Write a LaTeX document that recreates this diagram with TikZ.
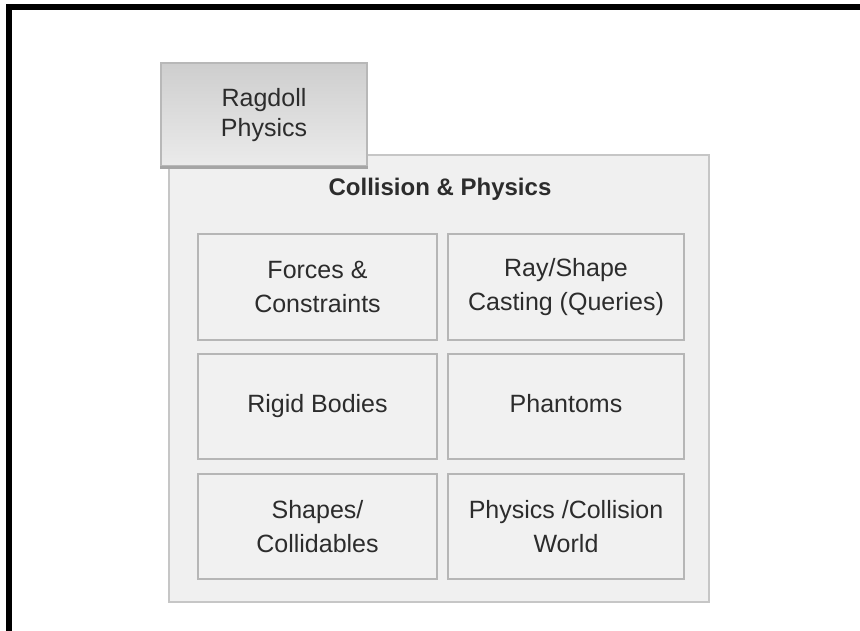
\documentclass[tikz,border=0pt]{standalone}
\usepackage{fontspec}
\setmainfont{Liberation Sans}
\definecolor{framegray}{HTML}{C6C6C6}
\definecolor{panelfill}{HTML}{F0F0F0}
\definecolor{cellborder}{HTML}{B6B6B6}
\definecolor{cellfill}{HTML}{F1F1F1}
\definecolor{tabtop}{HTML}{CECECE}
\definecolor{tabbottom}{HTML}{EBEBEB}
\definecolor{tabborder}{HTML}{B8B8B8}
\definecolor{ink}{HTML}{2C2C2C}
\begin{document}
\begin{tikzpicture}[x=1pt,y=-1pt,
  outerframe/.style={line width=6pt, line cap=butt, line join=miter},
  panel/.style={draw=framegray, line width=2.5pt, fill=panelfill,
    minimum width=540pt, minimum height=447pt, inner sep=0pt},
  cell/.style={draw=cellborder, line width=2pt, fill=cellfill,
    minimum height=105pt, align=center, inner sep=0pt, text=ink,
    font=\fontsize{25}{34}\selectfont},
  leftcell/.style={cell, minimum width=239pt},
  rightcell/.style={cell, minimum width=236pt},
  tab/.style={draw=tabborder, line width=2pt, top color=tabtop,
    bottom color=tabbottom, minimum width=206pt, minimum height=103pt,
    align=center, inner sep=0pt, text=ink,
    font=\fontsize{25}{30}\selectfont},
  title/.style={text=ink, inner sep=0pt, font=\fontsize{24}{28}\selectfont\bfseries}
]
\useasboundingbox (0,0) rectangle (860,631);
\begin{scope}
  \clip (0,0) rectangle (860,631);
  % open black frame running off the right and bottom edges
  \draw[outerframe] (9,660) -- (9,7) -- (890,7);
\end{scope}

% container panel
\node[panel] (panel) at (439,378.5) {};
\node[title, anchor=base] (title) at (440,196) {Collision \& Physics};

% grid of components
\node[leftcell]  (forces)   at (317.5,287)   {Forces \&\\Constraints};
\node[rightcell] (raycast)  at (566,287)     {Ray/Shape\\Casting (Queries)};
\node[leftcell]  (rigid)    at (317.5,406.5) {Rigid Bodies};
\node[rightcell] (phantoms) at (566,406.5)   {Phantoms\vphantom{g}};
\node[leftcell]  (shapes)   at (317.5,526.5) {Shapes/\\Collidables};
\node[rightcell] (world)    at (566,526.5)   {Physics /Collision\\World};

% tab overlapping the panel's top-left corner
\node[tab] (ragdoll) at (264,115) {Ragdoll\\Physics};
\draw[tabborder!90!black, line width=2.5pt]
  (ragdoll.south west) -- (ragdoll.south east);
\end{tikzpicture}
\end{document}
